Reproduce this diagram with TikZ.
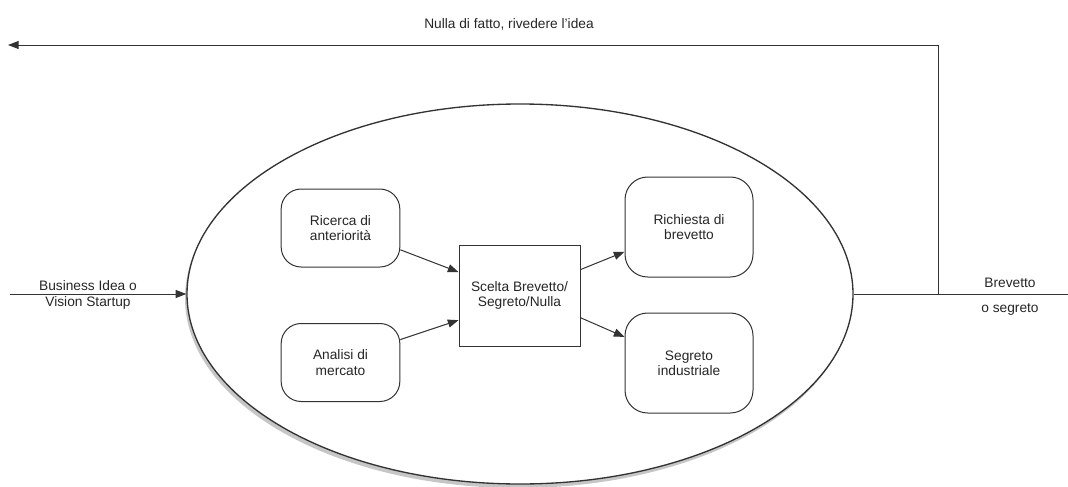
\documentclass[tikz,border=0pt]{standalone}
\usepackage{fontspec}
\setmainfont{Liberation Sans}
\usepackage{xcolor}
\colorlet{colorLine}{black!80}
\colorlet{colorText}{black!85}
\usepackage{tikz}
\usetikzlibrary{arrows.meta, shapes.geometric, shadows, positioning}
\tikzset{
  phase/.style={draw=colorLine, line width=0.75pt, rounded corners=15pt, minimum width=89pt, minimum height=58.5pt, inner sep=2pt},
  outcome/.style={phase, rounded corners=17pt, minimum width=96pt, minimum height=75pt},
  choice/.style={draw=colorLine, line width=0.75pt, minimum width=90.75pt, minimum height=75.75pt, inner sep=2pt},
  oval/.style={ellipse, draw=colorLine, line width=1pt, fill=white, minimum width=499.5pt, minimum height=285pt, inner sep=0pt,
    drop shadow={shadow xshift=-1.5pt, shadow yshift=-3pt, opacity=0.45}},
}

\begin{document}
\begin{tikzpicture}[x=0.75pt, y=-0.75pt, >={Triangle[length=8pt,width=6pt]}, line width=0.75pt, colorLine, every node/.style={font=\fontsize{10.3}{11.5}\selectfont, align=center, text=colorText}]
\useasboundingbox (0,0) rectangle (1068,486);
\node[oval] (ell) at (520,294) {};
\node[phase] (ric) at (340.5,228) {Ricerca di\\anteriorità};
\node[phase] (ana) at (340.5,362.5) {Analisi di\\mercato};
\node[choice] (sc) at (519.5,295.5) {Scelta Brevetto/\\Segreto/Nulla};
\node[outcome] (bre) at (689,227) {Richiesta di\\brevetto};
\node[outcome] (seg) at (689,363) {Segreto\\industriale};
\coordinate (in) at (10,294);
\coordinate (out) at (1068,294);
\coordinate (fork) at (938,294);
\coordinate (turn) at (938,45);
\coordinate (back) at (8,45);
\node (lin) at (88,295) {Business Idea o\\Vision Startup};
\node (lbre) at (1010,283) {Brevetto};
\node (lseg) at (1010,309) {o segreto};
\node (lback) at (509,24) {Nulla di fatto, rivedere l'idea};
\draw [->] (in) -- (ell.west);
\draw (ell.east) -- (out);
\draw [->] (fork) -- (turn) -- (back);
\draw [->] (ric.-20) -- (sc.159);
\draw [->] (ana.21) -- (sc.202);
\draw [->] (sc.23) -- (bre.201);
\draw [->] (sc.-20) -- (seg.158);
\end{tikzpicture}
\end{document}
